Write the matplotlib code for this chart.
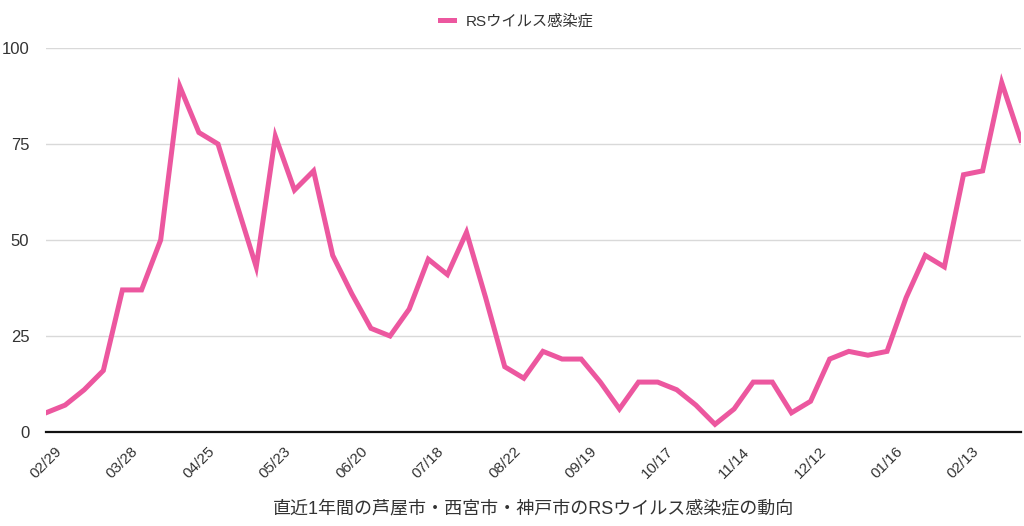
import numpy as np
from matplotlib import pyplot as plt

plt.rcParams['font.family'] = ['Liberation Sans', 'Noto Sans CJK JP', 'DejaVu Sans']

# weekly reports (category axis, every 4th label shown)
weeks = ['02/29', '03/07', '03/14', '03/21', '03/28', '04/04', '04/11', '04/18',
         '04/25', '05/02', '05/09', '05/16', '05/23', '05/30', '06/06', '06/13',
         '06/20', '06/27', '07/04', '07/11', '07/18', '07/25', '08/01', '08/08',
         '08/22', '08/29', '09/05', '09/12', '09/19', '09/26', '10/03', '10/10',
         '10/17', '10/24', '10/31', '11/07', '11/14', '11/21', '11/28', '12/05',
         '12/12', '12/19', '12/26', '01/09', '01/16', '01/23', '01/30', '02/06',
         '02/13', '02/20', '02/27', '03/06']
rs_virus = [5, 7, 11, 16, 37, 37, 50, 90, 78, 75, 59, 43, 77, 63, 68, 46,
            36, 27, 25, 32, 45, 41, 52, 35, 17, 14, 21, 19, 19, 13, 6, 13,
            13, 11, 7, 2, 6, 13, 13, 5, 8, 19, 21, 20, 21, 35, 46, 43,
            67, 68, 91, 76]
y_ticks = [0, 25, 50, 75, 100]

series_name = 'RSウイルス感染症'
caption = '直近1年間の芦屋市・西宮市・神戸市のRSウイルス感染症の動向'

text_color = '#333333'
line_color = '#ec579f'

fig = plt.figure(figsize=(10.24, 5.26), dpi=100)
ax = fig.add_axes([0.0449, 0.1787, 0.952, 0.730])

x = np.arange(len(rs_virus))
ax.plot(x, rs_virus, color=line_color, linewidth=3.6, label=series_name,
        solid_joinstyle='miter', zorder=3)

ax.set_xlim(0, len(rs_virus) - 1)
ax.set_ylim(0, 100)
ax.set_yticks(y_ticks)
ax.set_yticklabels([str(v) for v in y_ticks])
ax.set_xticks(x[::4])
ax.set_xticklabels(weeks[::4], rotation=45, ha='center')

ax.grid(axis='y', color='#d9d9d9', linewidth=1.0)
ax.set_axisbelow(True)
for side in ['top', 'right', 'left']:
    ax.spines[side].set_visible(False)
ax.spines['bottom'].set_color('#111111')
ax.spines['bottom'].set_linewidth(1.6)
ax.spines['bottom'].set_zorder(4)

ax.tick_params(axis='y', length=0, pad=12, labelsize=12, labelcolor=text_color)
ax.tick_params(axis='x', length=0, pad=9, labelsize=11, labelcolor=text_color)

ax.set_xlabel(caption, fontsize=13, color=text_color, labelpad=14)

fig.legend(loc='upper center', bbox_to_anchor=(0.505, 1.0), frameon=False,
           fontsize=11, handlelength=0.9, handletextpad=0.8, labelcolor=text_color)

plt.savefig('out.png', dpi=100)
